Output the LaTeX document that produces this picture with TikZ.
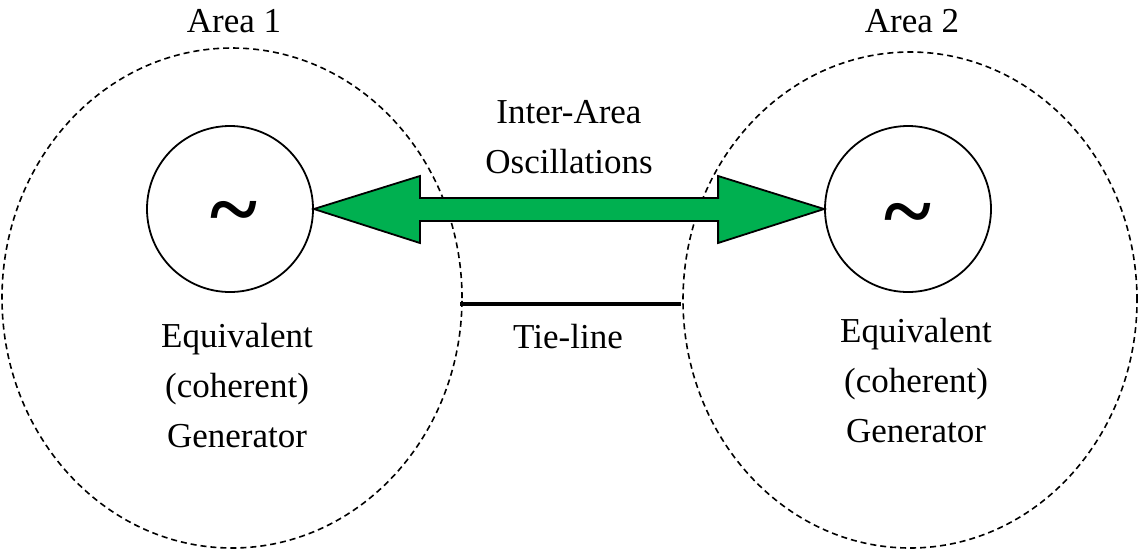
\documentclass[tikz,border=0pt]{standalone}
\usepackage{fontspec}
\setmainfont{Liberation Serif}
\usetikzlibrary{shapes.geometric,calc}
\definecolor{arrowgreen}{RGB}{0,176,80}
\begin{document}
\begin{tikzpicture}[x=1pt,y=-1pt,
  area/.style={ellipse, draw, dash pattern=on 6pt off 4pt, line width=1.6pt, inner sep=0pt},
  gen/.style={circle, draw, line width=1.8pt, minimum size=166pt, inner sep=0pt, font=\fontsize{90}{90}\selectfont\bfseries},
  lbl/.style={font=\fontsize{35}{50}\selectfont, align=center, inner sep=0pt},
  flow/.style={draw=black, line width=1.8pt, fill=arrowgreen, line join=miter},
  tie/.style={line width=4pt}]
\useasboundingbox (0,0) rectangle (1139,550);
\node[area, minimum width=460pt, minimum height=500pt] (e1) at (232,298) {};
\node[area, minimum width=454pt, minimum height=496pt] (e2) at (910,300) {};
\node[gen] (g1) at (230,209) {\hspace*{8pt}\raisebox{-30pt}[0pt][0pt]{\textasciitilde}};
\node[gen] (g2) at (908,209) {\raisebox{-32pt}[0pt][0pt]{\textasciitilde}};
\draw[flow] (g1.east) -- ($(g1.east)+(106,-33)$) -- ($(g1.east)+(106,-11)$)
  -- ($(g2.west)+(-106,-11)$) -- ($(g2.west)+(-106,-33)$) -- (g2.west)
  -- ($(g2.west)+(-106,34)$) -- ($(g2.west)+(-106,12)$)
  -- ($(g1.east)+(106,12)$) -- ($(g1.east)+(106,34)$) -- cycle;
\coordinate (t1) at (460,304);
\coordinate (t2) at (681,304);
\draw[tie] (t1) -- (t2);
\node[lbl, anchor=base] (a1) at (234,32) {Area 1};
\node[lbl, anchor=base] (a2) at (912,32) {Area 2};
\node[lbl, anchor=base] (ia) at (569,173) {Inter-Area\\Oscillations};
\node[lbl, anchor=base] (tl) at (568,348) {Tie-line};
\node[lbl, anchor=base] (q1) at (237,447) {Equivalent\\(coherent)\\Generator};
\node[lbl, anchor=base] (q2) at (916,442) {Equivalent\\(coherent)\\Generator};
\end{tikzpicture}
\end{document}
